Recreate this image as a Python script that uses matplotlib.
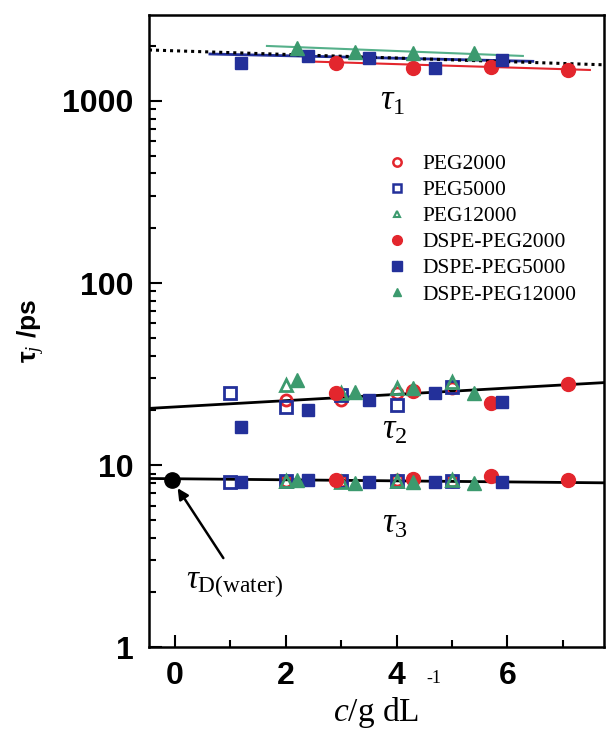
import matplotlib
matplotlib.use('Agg')
import matplotlib.pyplot as plt
import numpy as np

plt.rcParams['mathtext.fontset'] = 'custom'
plt.rcParams['mathtext.rm'] = 'Liberation Serif'
plt.rcParams['mathtext.it'] = 'Liberation Serif:italic'
plt.rcParams['mathtext.bf'] = 'Liberation Serif:bold'

# concentrations (g/dL) for each sample
x_peg2000 = [2.0, 3.0, 4.0, 5.0]
x_peg5000 = [1.0, 2.0, 3.0, 4.0, 5.0]
x_peg12000 = [2.0, 3.0, 4.0, 5.0]
x_dspe2000 = [2.9, 4.3, 5.7, 7.1]
x_dspe5000 = [1.2, 2.4, 3.5, 4.7, 5.9]
x_dspe12000 = [2.2, 3.25, 4.3, 5.4]

# tau1 (only DSPE-PEG samples)
t1_dspe2000 = [1611, 1513, 1545, 1480]
t1_dspe5000 = [1618, 1767, 1722, 1518, 1680]
t1_dspe12000 = [1949, 1867, 1842, 1842]

# tau2
t2_peg2000 = [22.8, 22.8, 24.8, 26.5]
t2_peg5000 = [24.8, 20.9, 24.2, 21.4, 27.0]
t2_peg12000 = [27.5, 25.0, 26.4, 28.5]
t2_dspe2000 = [24.8, 25.5, 22.0, 27.8]
t2_dspe5000 = [16.2, 20.0, 22.8, 25.0, 22.3]
t2_dspe12000 = [29.3, 25.3, 26.4, 24.8]

# tau3
t3_peg2000 = [8.2, 8.2, 8.3, 8.2]
t3_peg5000 = [8.1, 8.2, 8.2, 8.2, 8.2]
t3_peg12000 = [8.2, 8.1, 8.2, 8.3]
t3_dspe2000 = [8.3, 8.4, 8.7, 8.25]
t3_dspe5000 = [8.1, 8.3, 8.1, 8.1, 8.1]
t3_dspe12000 = [8.3, 8.0, 8.1, 8.0]

# pure water
x_water = [-0.05]
t_water = [8.27]

# fit lines (end points)
fit_t1_all_x = [-0.47, 7.74]
fit_t1_all_y = [1906, 1580]
fit_t1_2000_x = [2.53, 7.49]
fit_t1_2000_y = [1644, 1480]
fit_t1_5000_x = [0.63, 6.46]
fit_t1_5000_y = [1811, 1651]
fit_t1_12000_x = [1.66, 6.28]
fit_t1_12000_y = [2005, 1767]
fit_t2_x = [-0.47, 7.74]
fit_t2_y = [20.5, 28.4]
fit_t3_x = [-0.47, 7.74]
fit_t3_y = [8.45, 8.0]

red = '#e3262d'
blue = '#23309a'
green = '#3c9a6e'

fig = plt.figure(figsize=(6.08, 7.44), dpi=100)
ax = fig.add_axes([0.245, 0.13, 0.748, 0.85])

# fit lines
ax.plot(fit_t1_all_x, fit_t1_all_y, color='black', ls=(0, (1, 1.3)), lw=2.2, zorder=3)
ax.plot(fit_t1_2000_x, fit_t1_2000_y, color=red, lw=1.5, zorder=2)
ax.plot(fit_t1_5000_x, fit_t1_5000_y, color=blue, lw=2, zorder=2)
ax.plot(fit_t1_12000_x, fit_t1_12000_y, color='#55b08a', lw=1.5, zorder=2)
ax.plot(fit_t2_x, fit_t2_y, color='black', lw=2, zorder=2)
ax.plot(fit_t3_x, fit_t3_y, color='black', lw=2, zorder=2)

ms_o = 8
ms_f = 10
open_kw = dict(ls='none', mfc='none', mew=2, zorder=4)
filled_kw = dict(ls='none', zorder=4)

for xs, ys in [(x_peg2000, t2_peg2000), (x_peg2000, t3_peg2000)]:
    ax.plot(xs, ys, marker='o', ms=ms_o, mec=red, **open_kw)
for xs, ys in [(x_peg5000, t2_peg5000), (x_peg5000, t3_peg5000)]:
    ax.plot(xs, ys, marker='s', ms=ms_o, mec=blue, **open_kw)
for xs, ys in [(x_peg12000, t2_peg12000), (x_peg12000, t3_peg12000)]:
    ax.plot(xs, ys, marker='^', ms=ms_o, mec=green, **open_kw)
for ys in [t1_dspe2000, t2_dspe2000, t3_dspe2000]:
    ax.plot(x_dspe2000, ys, marker='o', ms=ms_f, color=red, **filled_kw)
for ys in [t1_dspe5000, t2_dspe5000, t3_dspe5000]:
    ax.plot(x_dspe5000, ys, marker='s', ms=ms_f - 1, color=blue, **filled_kw)
for ys in [t1_dspe12000, t2_dspe12000, t3_dspe12000]:
    ax.plot(x_dspe12000, ys, marker='^', ms=ms_f, color=green, **filled_kw)

ax.plot(x_water, t_water, marker='o', ms=11, color='black', ls='none', zorder=5)

# legend drawn by hand-made handles
handles = [
    ax.plot([], [], marker='o', ms=6, mfc='none', mec=red, mew=1.8, ls='none')[0],
    ax.plot([], [], marker='s', ms=6, mfc='none', mec=blue, mew=1.8, ls='none')[0],
    ax.plot([], [], marker='^', ms=5, mfc='none', mec=green, mew=1.5, ls='none')[0],
    ax.plot([], [], marker='o', ms=7, color=red, ls='none')[0],
    ax.plot([], [], marker='s', ms=7, color=blue, ls='none')[0],
    ax.plot([], [], marker='^', ms=6, color=green, ls='none')[0],
]
labels = ['PEG2000', 'PEG5000', 'PEG12000', 'DSPE-PEG2000', 'DSPE-PEG5000', 'DSPE-PEG12000']
ax.legend(handles, labels, loc='upper left', bbox_to_anchor=(0.50, 0.797),
          frameon=False, prop={'family': 'Liberation Serif', 'size': 15.5},
          handletextpad=0.75, labelspacing=0.28, handlelength=0.9, borderpad=0)

ax.set_yscale('log')
ax.set_xlim(-0.47, 7.74)
ax.set_ylim(1, 2970)
ax.set_xticks([0, 2, 4, 6])
ax.set_xticks([1, 3, 5, 7], minor=True)
ax.set_yticks([1, 10, 100, 1000])
ax.set_yticklabels(['1', '10', '100', '1000'])
ax.tick_params(which='both', direction='in', top=False, right=False, width=1.5)
ax.tick_params(which='major', length=9, labelsize=23)
ax.tick_params(axis='y', which='major', pad=11)
ax.tick_params(axis='x', which='major', pad=10)
ax.tick_params(which='minor', length=5)
for lab in ax.get_xticklabels() + ax.get_yticklabels():
    lab.set_fontfamily('Liberation Sans')
    lab.set_fontweight('bold')
for sp in ax.spines.values():
    sp.set_linewidth(1.8)

# x label: body and its raised exponent placed separately, as in the original
fig.text(333 / 608, 1 - 721 / 744, r'$c$/g dL', family='Liberation Serif', size=24,
         ha='left', va='baseline')
fig.text(426 / 608, 1 - 683 / 744, '-1', family='Liberation Serif', size=13,
         ha='left', va='baseline')
ax.set_ylabel('τ$_j$ /ps', family='Liberation Sans', weight='bold', size=19)
ax.yaxis.set_label_coords(-0.225, 0.5)

tkw = dict(family='Liberation Serif', size=25, ha='center', va='center')
ax.text(3.93, 1000, r'$\tau_1$', **tkw)
ax.text(3.97, 15.6, r'$\tau_2$', **tkw)
ax.text(3.97, 4.7, r'$\tau_3$', **tkw)
ax.text(0.2, 2.1, r'$\tau_{\mathrm{D(water)}}$', family='Liberation Serif', size=24, ha='left', va='baseline')

ax.annotate('', xy=(0.02, 7.7), xytext=(0.9, 3.0),
            arrowprops=dict(arrowstyle='-|>', color='black', lw=1.8, mutation_scale=16))

fig.savefig('out.png', dpi=100)
